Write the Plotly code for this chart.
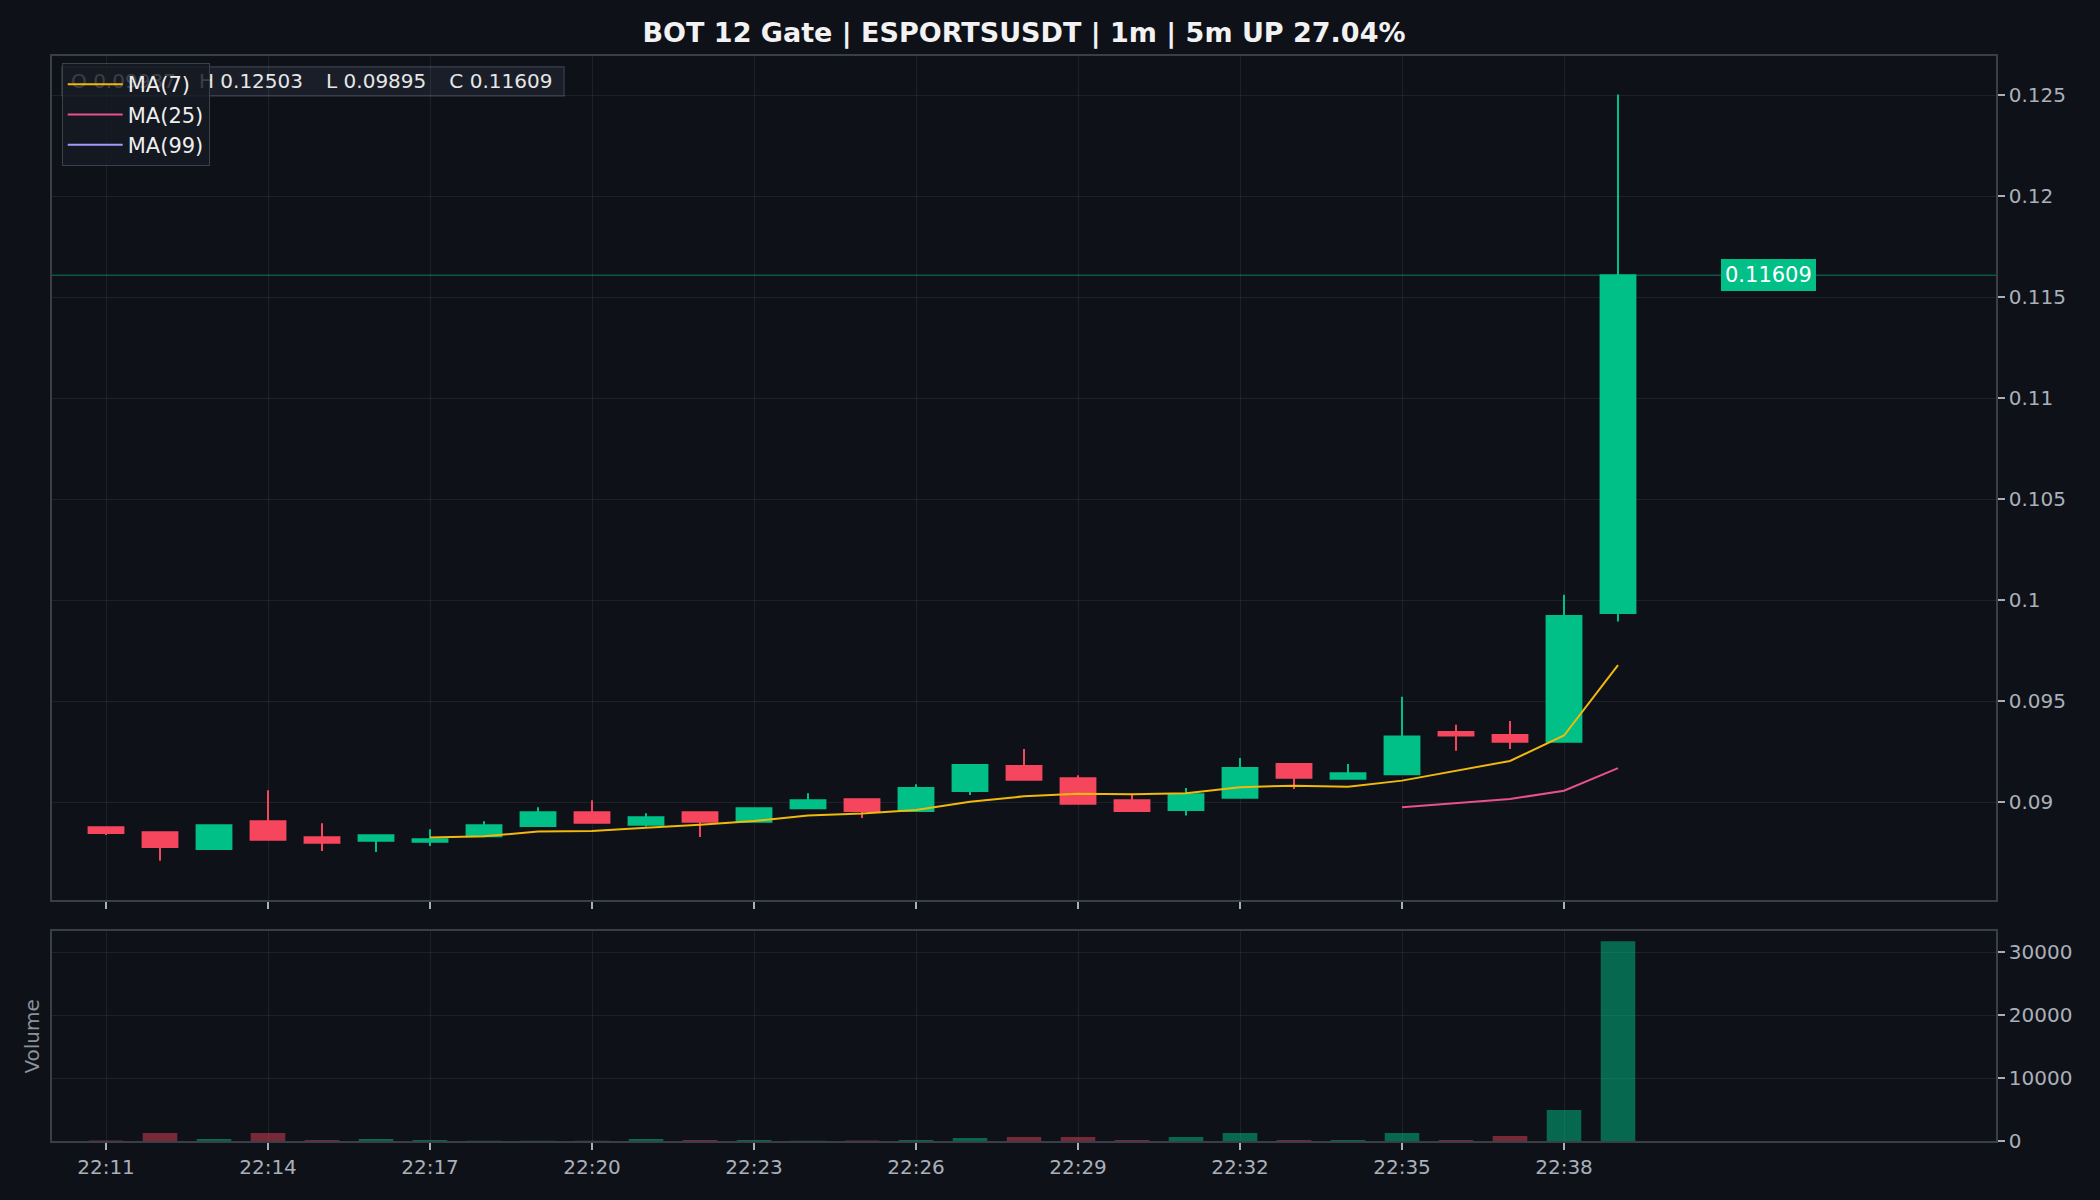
import pandas as pd
import plotly.graph_objects as go

# ---------------- data ----------------
session_date = "2024-01-01"
times = ["22:11", "22:12", "22:13", "22:14", "22:15", "22:16", "22:17", "22:18", "22:19", "22:20",
         "22:21", "22:22", "22:23", "22:24", "22:25", "22:26", "22:27", "22:28", "22:29", "22:30",
         "22:31", "22:32", "22:33", "22:34", "22:35", "22:36", "22:37", "22:38", "22:39"]
opens = [0.08876, 0.08852, 0.08769, 0.08906, 0.08827, 0.08809, 0.08804, 0.08832, 0.08883, 0.08950,
         0.08888, 0.08950, 0.08903, 0.08970, 0.09015, 0.08957, 0.09056, 0.09179, 0.09119, 0.09010,
         0.08962, 0.09022, 0.09189, 0.09116, 0.09139, 0.09348, 0.09333, 0.09300, 0.09937]
highs = [0.08878, 0.08853, 0.08886, 0.09059, 0.08896, 0.08842, 0.08866, 0.08906, 0.08975, 0.09010,
         0.08946, 0.08950, 0.08972, 0.09045, 0.09016, 0.09089, 0.09184, 0.09263, 0.09134, 0.09036,
         0.09070, 0.09219, 0.09190, 0.09189, 0.09522, 0.09383, 0.09402, 0.10027, 0.12503]
lows = [0.08838, 0.08710, 0.08769, 0.08814, 0.08759, 0.08754, 0.08784, 0.08832, 0.08880, 0.08898,
        0.08880, 0.08828, 0.08903, 0.08968, 0.08922, 0.08955, 0.09036, 0.09111, 0.08992, 0.08952,
        0.08935, 0.09020, 0.09066, 0.09116, 0.09139, 0.09255, 0.09263, 0.09300, 0.09895]
closes = [0.08848, 0.08779, 0.08886, 0.08814, 0.08799, 0.08837, 0.08817, 0.08886, 0.08950, 0.08898,
          0.08926, 0.08903, 0.08970, 0.09010, 0.08957, 0.09070, 0.09184, 0.09111, 0.08992, 0.08957,
          0.09040, 0.09169, 0.09121, 0.09144, 0.09326, 0.09330, 0.09300, 0.09922, 0.11609]
volumes = [60, 1270, 320, 1270, 160, 320, 160, 40, 30, 50,
           320, 160, 160, 40, 60, 160, 480, 640, 640, 160,
           640, 1270, 160, 160, 1270, 160, 800, 4920, 31740]

title_text = "BOT 12 Gate | ESPORTSUSDT | 1m | 5m UP 27.04%"
ma_periods = [7, 25, 99]
ma_colors = ["#f0b90b", "#e8508f", "#a29bfe"]
last_price = closes[-1]

# ---------------- styling ----------------
UP = "#00c087"
DOWN = "#f6465d"
UP_VOL = "rgba(0,192,135,0.5)"
DOWN_VOL = "rgba(246,70,93,0.45)"
BG = "#0f1118"
GRID = "rgba(255,255,255,0.07)"
FRAME = "#3a3e48"
TICK = "#aab0ba"
FONT = "DejaVu Sans"

ts = pd.to_datetime([f"{session_date} {t}" for t in times])
close_s = pd.Series(closes)
tick_times = list(ts[::3])

fig = go.Figure()

# OHLC info box (drawn on an invisible overlay so the legend sits above it)
sp = "\u00a0\u00a0\u00a0\u2009"
info = f"O {opens[-1]:.5f}{sp}H {highs[-1]:.5f}{sp}L {lows[-1]:.5f}{sp}C {closes[-1]:.5f}"
fig.add_trace(go.Scatter(
    x=[0.0098], y=[0.9685], mode="text", text=[info], textposition="middle right",
    textfont=dict(family=FONT, size=20, color="#e6e6e6"),
    xaxis="x3", yaxis="y3", showlegend=False, hoverinfo="skip",
))
fig.add_shape(type="rect", xref="x3", yref="y3", x0=0.00514, x1=0.2634, y0=0.9526, y1=0.987,
              fillcolor="rgba(28,32,42,0.9)", line=dict(color="#3b404c", width=1.2), layer="below")

fig.add_trace(go.Candlestick(
    x=ts, open=opens, high=highs, low=lows, close=closes,
    increasing=dict(line=dict(color=UP, width=2), fillcolor=UP),
    decreasing=dict(line=dict(color=DOWN, width=2), fillcolor=DOWN),
    showlegend=False, xaxis="x", yaxis="y", hoverinfo="skip",
))

for p, c in zip(ma_periods, ma_colors):
    ma = close_s.rolling(p).mean()
    fig.add_trace(go.Scatter(
        x=ts, y=ma, mode="lines", name=f"MA({p})",
        line=dict(color=c, width=2), xaxis="x", yaxis="y",
    ))

vol_colors = [UP_VOL if c >= o else DOWN_VOL for o, c in zip(opens, closes)]
fig.add_trace(go.Bar(
    x=ts, y=volumes, marker=dict(color=vol_colors, line=dict(width=0)),
    width=0.64 * 60000, showlegend=False, xaxis="x2", yaxis="y2",
))

x_range = [f"{session_date} 22:10:00", f"{session_date} 22:46:00"]
common_x = dict(
    range=x_range, type="date", tickmode="array", tickvals=tick_times,
    tickformat="%H:%M", showgrid=True, gridcolor=GRID, gridwidth=1,
    showline=True, linecolor=FRAME, linewidth=1.5, mirror=True,
    ticks="outside", ticklen=7, tickcolor=TICK, tickwidth=1.5,
    tickfont=dict(family=FONT, size=20, color=TICK), zeroline=False,
    rangeslider=dict(visible=False),
)
common_y = dict(
    side="right", showgrid=True, gridcolor=GRID, gridwidth=1,
    showline=True, linecolor=FRAME, linewidth=1.5, mirror=True,
    ticks="outside", ticklen=7, tickcolor=TICK, tickwidth=1.5,
    tickfont=dict(family=FONT, size=20, color=TICK), zeroline=False,
)

fig.update_layout(
    width=2100, height=1200,
    paper_bgcolor=BG, plot_bgcolor=BG,
    margin=dict(l=52, r=104, t=56, b=59),
    boxgap=0.355, boxgroupgap=0,
    font=dict(family=FONT, color="#e6e6e6"),
    title=dict(text=f"<b>{title_text}</b>", x=0.5, xref="paper", y=1 - 33 / 1200,
               yanchor="middle", font=dict(family=FONT, size=27, color="#f2f2f2")),
    xaxis=dict(domain=[0, 1], anchor="y", showticklabels=False, matches="x2", **common_x),
    xaxis2=dict(domain=[0, 1], anchor="y2", **common_x),
    xaxis3=dict(overlaying="x", anchor="y3", range=[0, 1], visible=False, fixedrange=True),
    yaxis=dict(domain=[0.2221, 1], anchor="x", range=[0.08516, 0.12694],
               tick0=0.09, dtick=0.005, **common_y),
    yaxis2=dict(domain=[0, 0.1935], anchor="x2", range=[0, 33370],
                tick0=0, dtick=10000, tickformat="d", **common_y),
    yaxis3=dict(overlaying="y", anchor="x3", range=[0, 1], visible=False, fixedrange=True),
    legend=dict(x=0.005, y=0.9935, xanchor="left", yanchor="top",
                bgcolor="rgba(22,26,34,0.82)", bordercolor="#3b404c", borderwidth=1,
                font=dict(family=FONT, size=21, color="#eeeeee"),
                tracegroupgap=0, itemwidth=55),
    showlegend=True,
    hovermode=False,
)

# last price line and tag
fig.add_shape(type="line", xref="x domain", yref="y", x0=0, x1=1, y0=last_price, y1=last_price,
              line=dict(color="rgba(0,192,135,0.6)", width=1), layer="below")
fig.add_annotation(xref="paper", yref="y", x=0.883, y=last_price, text=f"{last_price:.5f}",
                   xanchor="center", yanchor="middle",
                   showarrow=False, bgcolor=UP, bordercolor=UP, borderpad=3,
                   font=dict(family=FONT, size=21, color="#ffffff"))

# Volume axis title on the left
fig.add_annotation(xref="paper", yref="paper", x=-0.0103, y=0.0962, text="Volume",
                   textangle=-90, showarrow=False, xanchor="center", yanchor="middle",
                   font=dict(family=FONT, size=20, color="#8c919a"))

fig.write_html("out.html")
